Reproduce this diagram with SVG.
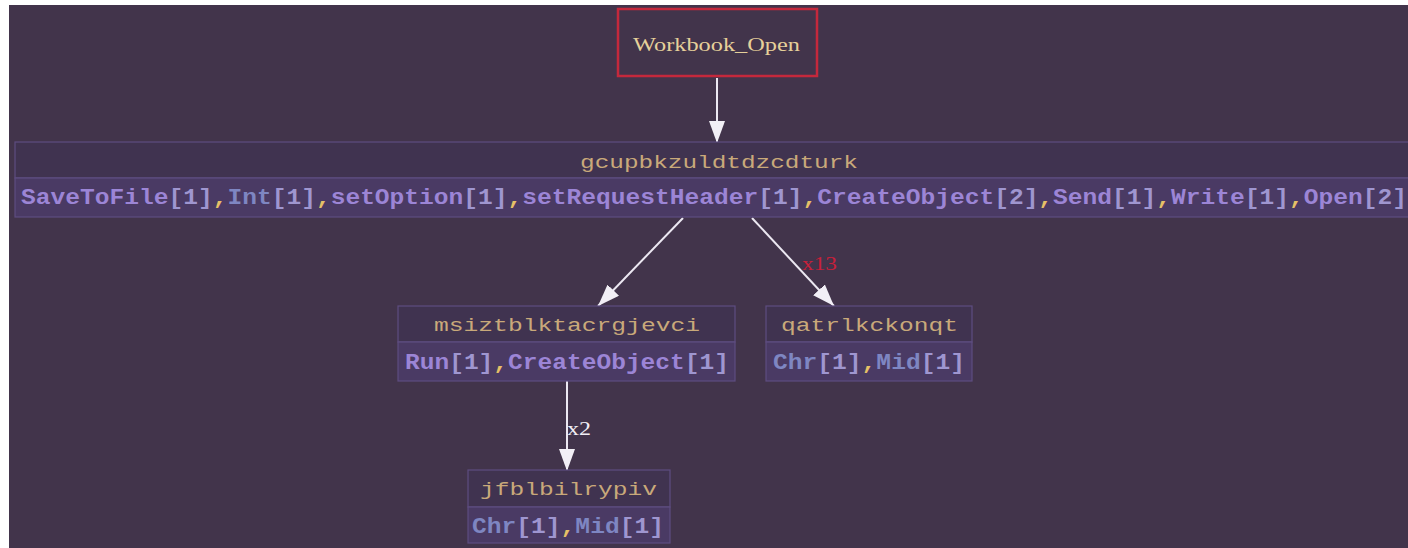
<svg xmlns="http://www.w3.org/2000/svg" width="1408" height="548" viewBox="0 0 1408 548">
<defs>
<style>
.bg{fill:#42344b}
.row1{fill:#403350;stroke:#5e4d80;stroke-width:1.2}
.row2{fill:#4a3a64;stroke:#5e4d80;stroke-width:1.2}
.name{font-family:"Liberation Mono",monospace;font-size:18px;fill:#c9a97a}
.fn{font-family:"Liberation Mono",monospace;font-weight:bold;font-size:22px;fill:#9c85d6}
.fb{fill:#7e86c2}
.br{fill:#9f96d0}
.cm{fill:#e6c067}
.edge{stroke:#ece8f2;stroke-width:2;fill:none}
.lbl{font-family:"Liberation Serif",serif;font-size:19px}
</style>
<marker id="ah" viewBox="0 0 22 16" refX="22" refY="8" markerWidth="22" markerHeight="16" markerUnits="userSpaceOnUse" orient="auto">
<path d="M0,0 L22,8 L0,16 Z" fill="#f2eff6"/>
</marker>
</defs>
<rect x="0" y="0" width="1408" height="548" fill="#ffffff"/>
<rect class="bg" x="9" y="5" width="1399" height="543"/>

<g id="edges">
<path class="edge" d="M717,78 L717,143" marker-end="url(#ah)"/>
<path class="edge" d="M683,218 L598,306" marker-end="url(#ah)"/>
<path class="edge" d="M752,218 L834,306" marker-end="url(#ah)"/>
<text class="lbl" x="802" y="270" fill="#c8203a" textLength="35" lengthAdjust="spacingAndGlyphs">x13</text>
<path class="edge" d="M567,381 L567,471" marker-end="url(#ah)"/>
<text class="lbl" x="567" y="435" fill="#f2eff6" textLength="24" lengthAdjust="spacingAndGlyphs">x2</text>
</g>

<g id="Workbook_Open">
<rect x="618" y="9" width="199" height="67" fill="#42344b" stroke="#c4283c" stroke-width="2.5"/>
<text x="633" y="51" font-family="Liberation Serif,serif" font-size="19" fill="#e6d09a" textLength="167" lengthAdjust="spacingAndGlyphs">Workbook_Open</text>
</g>

<g id="gcupbkzuldtdzcdturk">
<rect class="row1" x="15" y="142" width="1400" height="36"/>
<rect class="row2" x="15" y="178" width="1400" height="39"/>
<text class="name" x="580" y="168" textLength="278" lengthAdjust="spacingAndGlyphs">gcupbkzuldtdzcdturk</text>
<text class="fn" x="21" y="204" textLength="1386" lengthAdjust="spacingAndGlyphs">SaveToFile<tspan class="br">[1]</tspan><tspan class="cm">,</tspan><tspan class="fb">Int</tspan><tspan class="br">[1]</tspan><tspan class="cm">,</tspan>setOption<tspan class="br">[1]</tspan><tspan class="cm">,</tspan>setRequestHeader<tspan class="br">[1]</tspan><tspan class="cm">,</tspan>CreateObject<tspan class="br">[2]</tspan><tspan class="cm">,</tspan>Send<tspan class="br">[1]</tspan><tspan class="cm">,</tspan>Write<tspan class="br">[1]</tspan><tspan class="cm">,</tspan>Open<tspan class="br">[2]</tspan></text>
</g>

<g id="msiztblktacrgjevci">
<rect class="row1" x="398" y="306" width="337" height="36"/>
<rect class="row2" x="398" y="342" width="337" height="39"/>
<text class="name" x="434" y="331" textLength="266" lengthAdjust="spacingAndGlyphs">msiztblktacrgjevci</text>
<text class="fn" x="405" y="369" textLength="324" lengthAdjust="spacingAndGlyphs">Run<tspan class="br">[1]</tspan><tspan class="cm">,</tspan>CreateObject<tspan class="br">[1]</tspan></text>
</g>

<g id="qatrlkckonqt">
<rect class="row1" x="766" y="306" width="206" height="36"/>
<rect class="row2" x="766" y="342" width="206" height="39"/>
<text class="name" x="781" y="331" textLength="177" lengthAdjust="spacingAndGlyphs">qatrlkckonqt</text>
<text class="fn" x="773" y="369" textLength="192" lengthAdjust="spacingAndGlyphs"><tspan class="fb">Chr</tspan><tspan class="br">[1]</tspan><tspan class="cm">,</tspan><tspan class="fb">Mid</tspan><tspan class="br">[1]</tspan></text>
</g>

<g id="jfblbilrypiv">
<rect class="row1" x="468" y="470" width="202" height="37"/>
<rect class="row2" x="468" y="507" width="202" height="36"/>
<text class="name" x="480" y="495" textLength="177" lengthAdjust="spacingAndGlyphs">jfblbilrypiv</text>
<text class="fn" x="472" y="533" textLength="192" lengthAdjust="spacingAndGlyphs"><tspan class="fb">Chr</tspan><tspan class="br">[1]</tspan><tspan class="cm">,</tspan><tspan class="fb">Mid</tspan><tspan class="br">[1]</tspan></text>
</g>
</svg>
